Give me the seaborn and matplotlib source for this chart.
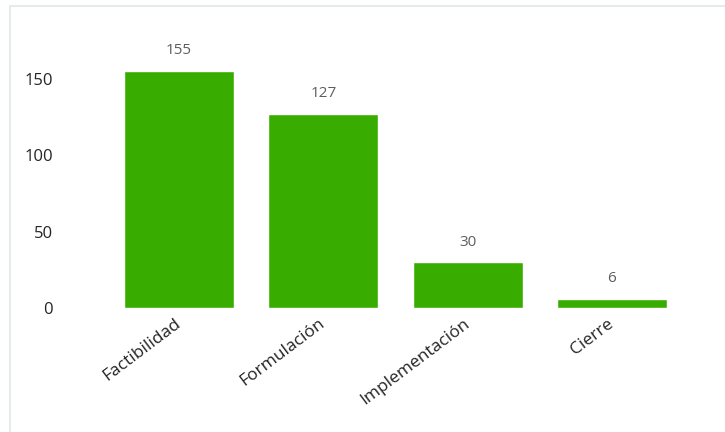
import matplotlib
matplotlib.use('Agg')
import matplotlib.pyplot as plt
from matplotlib.patches import Rectangle
import seaborn as sns
import pandas as pd

# ── Data ──────────────────────────────────────────────────────
etapas   = ['Factibilidad', 'Formulación', 'Implementación', 'Cierre']
cantidad = [155, 127, 30, 6]
y_ticks  = [0, 50, 100, 150]

BAR_COLOR  = '#38AD00'
TEXT_COLOR = '#252423'
LBL_COLOR  = '#605E5C'

sns.set_theme(style='white')
plt.rcParams['font.family'] = ['Open Sans', 'DejaVu Sans']

df = pd.DataFrame({'etapa': etapas, 'cantidad': cantidad})

fig = plt.figure(figsize=(7.25, 4.32), dpi=100)
fig.patch.set_facecolor('white')
# panel border (only top + left edges visible)
fig.add_artist(Rectangle((10/725, -0.05), 1, 1.05 - 6/432, transform=fig.transFigure,
                         fill=False, edgecolor='#E6EAED', linewidth=1.5))

ax = fig.add_axes([107/725, (432-308)/432, 577/725, 283/432])
sns.barplot(data=df, x='etapa', y='cantidad', color=BAR_COLOR, saturation=1,
            width=0.764, ax=ax)

ax.set_ylim(0, 185)
ax.set_xlim(-0.5, 3.5)
ax.set_yticks(y_ticks)
ax.set_xlabel(''); ax.set_ylabel('')
for s in ax.spines.values():
    s.set_visible(False)
ax.tick_params(axis='y', length=0, pad=39, labelsize=12, labelcolor=TEXT_COLOR)
ax.tick_params(axis='x', length=0, pad=10, labelsize=12.5, labelcolor=TEXT_COLOR)
for lbl in ax.get_xticklabels():
    lbl.set_rotation(37)
    lbl.set_ha('right')
    lbl.set_va('center')
    lbl.set_rotation_mode('anchor')

for c in ax.containers:
    ax.bar_label(c, labels=[str(v) for v in cantidad], padding=9,
                 fontsize=11, color=LBL_COLOR)

fig.savefig('out.png', dpi=100)
